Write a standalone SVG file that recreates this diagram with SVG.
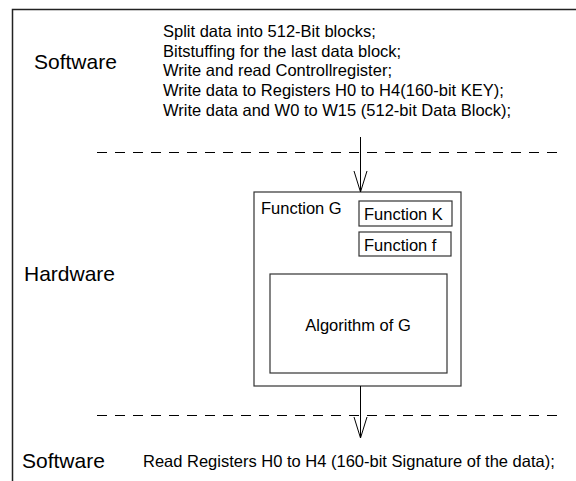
<svg xmlns="http://www.w3.org/2000/svg" width="576" height="481" viewBox="0 0 576 481">
<defs>
<style>
text{font-family:"Liberation Sans",Arial,sans-serif;fill:#000}
.big{font-size:21px}
.txt{font-size:16.5px}
.box{fill:#fff;stroke:#333;stroke-width:1.2}
.dash{stroke:#000;stroke-width:1;stroke-dasharray:10 8;fill:none}
.arr{stroke:#000;stroke-width:1;fill:none}
</style>
</defs>
<rect width="576" height="481" fill="#fff"/>
<path d="M12.5 481 V9.5 H576" fill="none" stroke="#222" stroke-width="1.5"/>

<g id="layer-software-top">
<text class="big" x="34" y="69">Software</text>
<text class="txt" x="163" y="37">Split data into 512-Bit blocks;</text>
<text class="txt" x="163" y="57">Bitstuffing for the last data block;</text>
<text class="txt" x="163" y="76">Write and read Controllregister;</text>
<text class="txt" x="163" y="96">Write data to Registers H0 to H4(160-bit KEY);</text>
<text class="txt" x="163" y="116">Write data and W0 to W15 (512-bit Data Block);</text>
</g>

<g id="layer-hardware">
<text class="big" x="24" y="281">Hardware</text>
</g>

<g id="function-g">
<rect class="box" x="254" y="192" width="207" height="194"/>
<text class="txt" x="261" y="214">Function G</text>
</g>
<g id="function-k">
<rect class="box" x="359" y="201" width="93" height="25"/>
<text class="txt" x="364" y="220">Function K</text>
</g>
<g id="function-f">
<rect class="box" x="359" y="232" width="92" height="24"/>
<text class="txt" x="364" y="251">Function f</text>
</g>
<g id="algorithm-g">
<rect class="box" x="270" y="274" width="177" height="99"/>
<text class="txt" x="358" y="331" text-anchor="middle">Algorithm of G</text>
</g>

<g id="layer-software-bottom">
<text class="big" x="22" y="468">Software</text>
<text class="txt" x="143" y="467">Read Registers H0 to H4 (160-bit Signature of the data);</text>
</g>

<g id="connectors">
<line class="dash" x1="97" y1="152.5" x2="562" y2="152.5"/>
<line class="dash" x1="97" y1="415.5" x2="562" y2="415.5"/>
<path class="arr" d="M360.5 137 V192 M354 171 L360.5 192 L367 171"/>
<path class="arr" d="M360.5 386 V438 M354 417 L360.5 438 L367 417"/>
</g>
</svg>
